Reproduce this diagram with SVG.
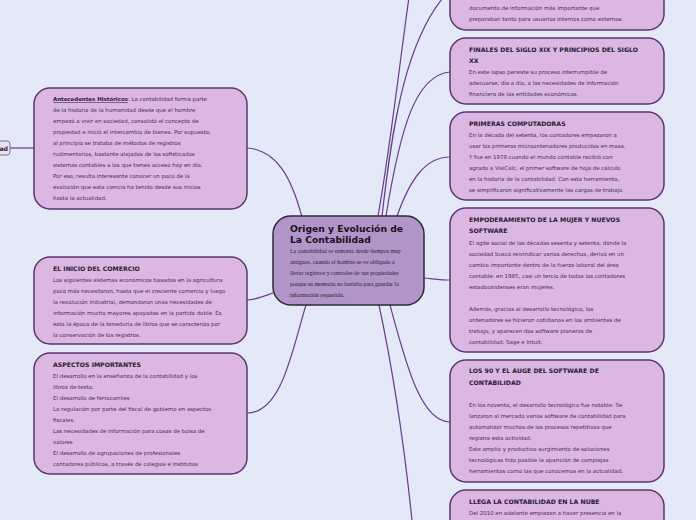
<svg xmlns="http://www.w3.org/2000/svg" width="696" height="520" viewBox="0 0 696 520">
<style>
.bg{fill:#e3e9f7}
.node rect{fill:#dbb7e1;stroke:#5a3670;stroke-width:1.5}
.main rect{fill:#b195c8;stroke:#2e2a33;stroke-width:1.5}
.t{font-family:"DejaVu Sans",Verdana,sans-serif;font-size:5.45px;fill:#44304f}
.h{font-family:"DejaVu Sans",Verdana,sans-serif;font-size:6.2px;font-weight:bold;fill:#2a1a38}
.mt{font-family:"DejaVu Sans",Verdana,sans-serif;font-size:9.2px;font-weight:bold;fill:#15101a}
.ms{font-family:"Liberation Serif","Times New Roman",serif;font-size:5.9px;fill:#2a1f30}
.c path{fill:none;stroke:#6a3d8c;stroke-width:1.2}
</style>
<rect class="bg" x="0" y="0" width="696" height="520"/>
<g class="c" id="connectors">
<path d="M302,217 C292,180 278,150 247,148"/>
<path d="M273,293 C262,297 255,300 247,300"/>
<path d="M306,305 C292,350 282,413 247,413"/>
<path d="M378,216 C390,150 400,60 410,-10"/>
<path d="M382,216 C392,130 405,30 455,-15"/>
<path d="M386,216 C400,130 415,75 450,72"/>
<path d="M397,216 C410,180 425,157 450,157"/>
<path d="M424,278 C435,279 442,280 450,280"/>
<path d="M390,305 C405,360 420,422 450,422"/>
<path d="M379,305 C395,380 405,450 413,530"/>
<path d="M10,148 L34,148"/>
</g>
<g id="n-root" class="node">
<rect x="-30" y="141" width="40" height="14" rx="3" style="fill:#e9e2ee;stroke:#7a7480;stroke-width:1"/>
<text class="h" x="8" y="150.5" text-anchor="end">ad</text>
</g>
<g id="n-main" class="main">
<rect x="273" y="216" width="151" height="89" rx="18"/>
<text class="mt" x="290" y="232">Origen y Evolución  de</text>
<text class="mt" x="290" y="243">La Contabilidad</text>
<text class="ms" x="290" y="253">La contabilidad  se remonta desde tiempos muy</text>
<text class="ms" x="290" y="264">antiguos, cuando el hombre se ve obligado a</text>
<text class="ms" x="290" y="275">llevar registros y controles de sus propiedades</text>
<text class="ms" x="290" y="286">porque su memoria no bastaba para guardar la</text>
<text class="ms" x="290" y="297">información requerida.</text>
</g>
<g id="n-antecedentes" class="node">
<rect x="34" y="88" width="213" height="121" rx="16"/>
<text class="t" x="53" y="101"><tspan style="font-weight:bold;fill:#2a1a38;text-decoration:underline">Antecedentes Históricos</tspan>:   La contabilidad forma parte</text>
<text class="t" x="53" y="112">de la historia de la humanidad desde que el hombre</text>
<text class="t" x="53" y="123">empezó a vivir en sociedad, consolidó el concepto de</text>
<text class="t" x="53" y="134">propiedad e inició el intercambio de bienes. Por supuesto,</text>
<text class="t" x="53" y="145">al principio se trataba de métodos de registros</text>
<text class="t" x="53" y="156">rudimentarios, bastante alejados de los sofisticados</text>
<text class="t" x="53" y="167">sistemas contables a los que tienes acceso hoy en día.</text>
<text class="t" x="53" y="178">Por eso, resulta interesante conocer un poco de la</text>
<text class="t" x="53" y="189">evolución que esta ciencia ha tenido desde sus inicios</text>
<text class="t" x="53" y="200">hasta la actualidad.</text>
</g>
<g id="n-comercio" class="node">
<rect x="34" y="257" width="213" height="87" rx="16"/>
<text class="h" x="53" y="271">EL INICIO DEL COMERCIO</text>
<text class="t" x="53" y="282">Los siguientes sistemas económicos basados en la agricultura</text>
<text class="t" x="53" y="293">poco más necesitaron, hasta que el creciente comercio y luego</text>
<text class="t" x="53" y="304">la revolución industrial, demandaron unas necesidades de</text>
<text class="t" x="53" y="315">información mucho mayores apoyadas en la partida doble. Es</text>
<text class="t" x="53" y="326">esta la época de la teneduría de libros que se caracteriza por</text>
<text class="t" x="53" y="337">la conservación de los registros.</text>
</g>
<g id="n-aspectos" class="node">
<rect x="34" y="353" width="213" height="121" rx="16"/>
<text class="h" x="53" y="367">ASPECTOS IMPORTANTES</text>
<text class="t" x="53" y="378">El desarrollo en la enseñanza de la contabilidad y los</text>
<text class="t" x="53" y="389">libros de texto.</text>
<text class="t" x="53" y="400">El desarrollo de ferrocarriles</text>
<text class="t" x="53" y="411">La regulación por parte del fiscal de gobierno en aspectos</text>
<text class="t" x="53" y="422">fiscales.</text>
<text class="t" x="53" y="433">Las necesidades de información para cosas de bolsa de</text>
<text class="t" x="53" y="444">valores</text>
<text class="t" x="53" y="455">El desarrollo de agrupaciones de profesionales</text>
<text class="t" x="53" y="466">contadores públicos, a través de colegios e institutos</text>
</g>
<g id="n-estados" class="node">
<rect x="450" y="-60" width="214" height="90" rx="16"/>
<text class="t" x="469" y="-1">estados financieros, siendo el elemento base el</text>
<text class="t" x="469" y="10">documento de información más importante que</text>
<text class="t" x="469" y="21">preparaban tanto para usuarios internos como externos.</text>
</g>
<g id="n-finales" class="node">
<rect x="450" y="38" width="214" height="66" rx="16"/>
<text class="h" x="469" y="52">FINALES DEL SIGLO XIX Y PRINCIPIOS DEL SIGLO</text>
<text class="h" x="469" y="63">XX</text>
<text class="t" x="469" y="74">En este lapso persiste su proceso interrumpible de</text>
<text class="t" x="469" y="85">adecuarse, día a día, a las necesidades de información</text>
<text class="t" x="469" y="96">financiera de las entidades económicas.</text>
</g>
<g id="n-computadoras" class="node">
<rect x="450" y="112" width="214" height="88" rx="16"/>
<text class="h" x="469" y="126">PRIMERAS COMPUTADORAS</text>
<text class="t" x="469" y="137">En la década del setenta, los contadores empezaron a</text>
<text class="t" x="469" y="148">usar los primeros microordenadores producidos en masa.</text>
<text class="t" x="469" y="159">Y fue en 1978 cuando el mundo contable recibió con</text>
<text class="t" x="469" y="170">agrado a VisiCalc, el primer software de hoja de cálculo</text>
<text class="t" x="469" y="181">en la historia de la contabilidad. Con esta herramienta,</text>
<text class="t" x="469" y="192">se simplificaron significativamente las cargas de trabajo</text>
</g>
<g id="n-mujer" class="node">
<rect x="450" y="208" width="214" height="144" rx="16"/>
<text class="h" x="469" y="222">EMPODERAMIENTO DE LA MUJER Y NUEVOS</text>
<text class="h" x="469" y="233">SOFTWARE</text>
<text class="t" x="469" y="245">El agite social de las décadas sesenta y setenta, donde la</text>
<text class="t" x="469" y="256">sociedad buscó reivindicar varios derechos, derivó en un</text>
<text class="t" x="469" y="267">cambio importante dentro de la fuerza laboral del área</text>
<text class="t" x="469" y="278">contable: en 1985, casi un tercio de todos los contadores</text>
<text class="t" x="469" y="289">estadounidenses eran mujeres.</text>
<text class="t" x="469" y="311">Además, gracias al desarrollo tecnológico, los</text>
<text class="t" x="469" y="322">ordenadores se hicieron cotidianos en los ambientes de</text>
<text class="t" x="469" y="333">trabajo, y aparecen dos software pioneros de</text>
<text class="t" x="469" y="344">contabilidad: Sage e Intuit.</text>
</g>
<g id="n-noventa" class="node">
<rect x="450" y="360" width="214" height="122" rx="16"/>
<text class="h" x="469" y="373">LOS 90 Y EL AUGE DEL SOFTWARE DE</text>
<text class="h" x="469" y="385">CONTABILIDAD</text>
<text class="t" x="469" y="407">En los noventa, el desarrollo tecnológico fue notable. Se</text>
<text class="t" x="469" y="418">lanzaron al mercado varios software de contabilidad para</text>
<text class="t" x="469" y="429">automatizar muchos de los procesos repetitivos que</text>
<text class="t" x="469" y="440">registra esta actividad.</text>
<text class="t" x="469" y="451">Este amplio y productivo surgimiento de soluciones</text>
<text class="t" x="469" y="462">tecnológicas hizo posible la aparición de complejas</text>
<text class="t" x="469" y="473">herramientas como las que conocemos en la actualidad.</text>
</g>
<g id="n-nube" class="node">
<rect x="450" y="490" width="214" height="80" rx="16"/>
<text class="h" x="469" y="504">LLEGA LA CONTABILIDAD EN LA NUBE</text>
<text class="t" x="469" y="515">Del 2010 en adelante empiezan a hacer presencia en la</text>
</g>
</svg>
